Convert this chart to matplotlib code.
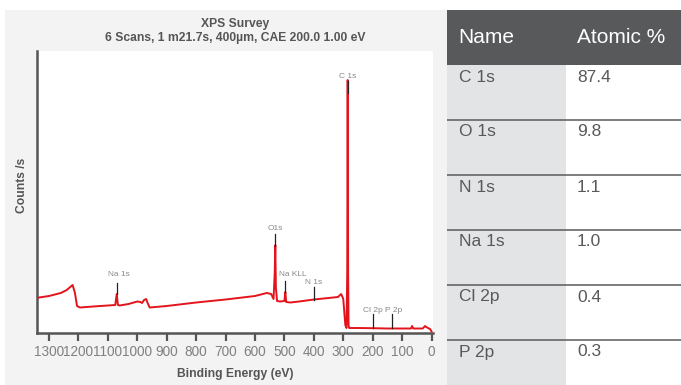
import matplotlib
matplotlib.use("Agg")
import matplotlib.pyplot as plt
from matplotlib.patches import Rectangle

plt.rcParams['font.family'] = ['Liberation Sans', 'DejaVu Sans']

# ---- spectrum data (binding energy eV, counts arb.) ----
energy = [1340, 1334, 1300, 1260, 1240, 1228, 1220, 1212, 1205, 1195, 1150, 1100,
          1075, 1070, 1066, 1060, 1030, 1000, 990, 984, 977, 970, 965, 958, 900,
          800, 700, 600, 560, 545, 537, 533, 531, 529, 525, 515, 500, 497, 494,
          480, 450, 400, 350, 318, 307, 300, 293, 289, 286.5, 285, 283.5, 282,
          280, 250, 200, 150, 100, 70, 66, 62, 30, 22, 18, 12, 5, 0]
counts = [35, 35.5, 37, 40, 43, 46, 48, 40, 27, 25.5, 26.5, 27.5,
          28, 39, 28, 27.5, 29, 31.5, 31, 30, 33, 34, 30, 25.5, 27,
          30.5, 33.5, 37, 40, 39, 34, 60, 88, 45, 32, 31.5, 32, 41, 31,
          30.5, 31.5, 33.5, 35, 36, 39, 34, 8, 5, 60, 253, 60, 8,
          5, 5, 4.8, 4.5, 4.5, 4.5, 7, 4.5, 4.5, 7, 6, 5, 4, 1.5]

# peak markers
peak_names = ["C 1s", "O1s", "Na 1s", "Na KLL", "N 1s", "Cl 2p", "P 2p"]
peak_pos = [284, 531, 1070, 497, 400, 199, 135]
peak_low = [240, 87, 39, 41, 33, 5, 5]
peak_high = [252, 99, 50, 52, 46, 19, 19]
label_pos = [285, 531, 1062, 473, 402, 201, 130]
label_y = [257, 104, 59, 58, 50, 23, 23]

xticks = list(range(1300, -1, -100))

# ---- table data ----
col_headers = ["Name", "Atomic %"]
elements = ["C 1s", "O 1s", "N 1s", "Na 1s", "Cl 2p", "P 2p"]
atomic_pct = ["87.4", "9.8", "1.1", "1.0", "0.4", "0.3"]

W, H = 681, 385
fig = plt.figure(figsize=(W / 100, H / 100), dpi=100)
fig.patch.set_facecolor("white")

# gray background panel
fig.patches.append(Rectangle((5 / W, 0), (447 - 5) / W, 1 - 10 / H,
                             transform=fig.transFigure, facecolor="#f3f3f3",
                             edgecolor="none", zorder=-10))

ax = fig.add_axes([37 / W, 1 - 333 / H, (433 - 37) / W, (333 - 51) / H])
ax.set_zorder(2)
ax.set_facecolor("white")
ax.plot(energy, counts, color="#e3141b", lw=1.4, zorder=3)
ax.set_xlim(1341, -5)
ax.set_ylim(0, 282)
ax.set_xticks(xticks)
ax.set_xticklabels([str(t) for t in xticks])
ax.set_yticks([])
for s in ["top", "right"]:
    ax.spines[s].set_visible(False)
for s in ["left", "bottom"]:
    ax.spines[s].set_color("#555555")
    ax.spines[s].set_linewidth(1.8)
ax.tick_params(axis="x", direction="out", length=5.5, width=1.6, color="#555555",
               labelcolor="#808080", labelsize=9.8, pad=3)

for n, p, lo, hi, lp, ly in zip(peak_names, peak_pos, peak_low, peak_high,
                                label_pos, label_y):
    ax.plot([p, p], [lo, hi], color="#222222", lw=0.9, zorder=4)
    ax.text(lp, ly, n, ha="center", va="center", fontsize=6, color="#888888")

fig.text((37 + 433) / 2 / W, 1 - 24 / H, "XPS Survey", ha="center", va="center",
         fontsize=8.7, fontweight="bold", color="#555555")
fig.text((37 + 433) / 2 / W, 1 - 38 / H, "6 Scans, 1 m21.7s, 400µm, CAE 200.0 1.00 eV",
         ha="center", va="center", fontsize=8.7, fontweight="bold", color="#555555")
fig.text((37 + 433) / 2 / W, 1 - 374 / H, "Binding Energy (eV)", ha="center",
         va="center", fontsize=8.7, fontweight="bold", color="#555555")
fig.text(22 / W, 1 - 185 / H, "Counts /s", ha="center", va="center", rotation=90,
         fontsize=8.7, fontweight="bold", color="#555555")

# ---- table ----
tx0, tx1, tmid = 447, 681, 566
head_top, head_bot, row_h = 10, 65, 55
tax = fig.add_axes([tx0 / W, 0, (tx1 - tx0) / W, 1 - 10 / H])
tax.set_xlim(tx0, tx1)
tax.set_ylim(385, 10)
tax.axis("off")
tax.add_patch(Rectangle((tx0, head_top), tx1 - tx0, head_bot - head_top,
                        facecolor="#58595b", edgecolor="none"))
tax.text(458, (head_top + head_bot) / 2, col_headers[0], color="white",
         fontsize=15, va="center", ha="left")
tax.text(577, (head_top + head_bot) / 2, col_headers[1], color="white",
         fontsize=15, va="center", ha="left")
tax.add_patch(Rectangle((tx0, head_bot), tmid - tx0, 385 - head_bot,
                        facecolor="#e3e4e6", edgecolor="none"))
for i, (e, v) in enumerate(zip(elements, atomic_pct)):
    top = head_bot + i * row_h
    tax.text(459, top + 12, e, color="#58595b", fontsize=12.5, va="center", ha="left")
    tax.text(577, top + 12, v, color="#58595b", fontsize=12.5, va="center", ha="left")
    if i > 0:
        tax.plot([tx0, tx1], [top, top], color="#5a5a5a", lw=1.1)

fig.savefig("out.png", dpi=100)
